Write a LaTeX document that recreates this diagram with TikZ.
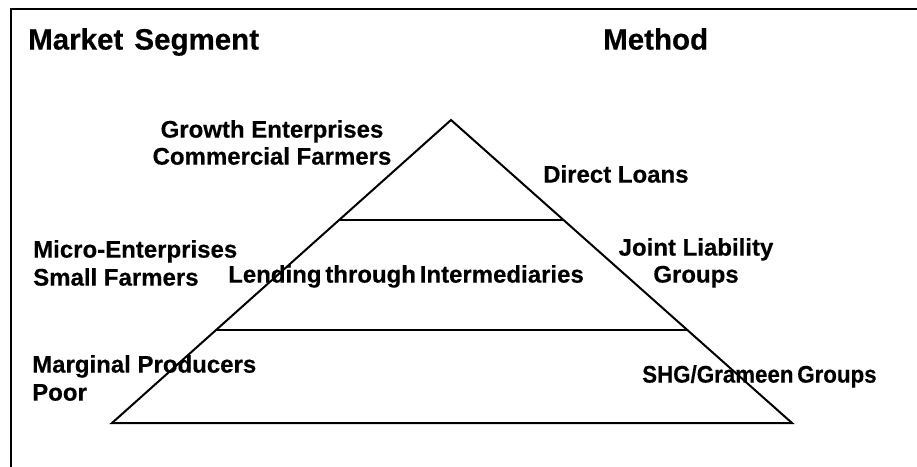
\documentclass[tikz,border=0pt]{standalone}
\usepackage{fontspec}
\setmainfont{Liberation Sans}[BoldFont={Liberation Sans Bold}, BoldFeatures={FakeBold=0.4}]
\usetikzlibrary{calc}

\begin{document}
\begin{tikzpicture}[x=1pt,y=-1pt,
  frame/.style={line width=2.4pt},
  tier/.style={line width=2pt, line join=miter},
  heading/.style={font=\fontsize{29.5}{33}\selectfont\bfseries, inner sep=0pt, anchor=north west},
  lbl/.style={font=\fontsize{24}{28}\selectfont\bfseries, inner sep=0pt, align=left, anchor=north west},
  clbl/.style={font=\fontsize{24}{27}\selectfont\bfseries, inner sep=0pt, align=center, anchor=north}]

  % page area
  \useasboundingbox (0,0) rectangle (917,466);
  \clip (0,0) rectangle (917,466);

  % outer frame, running past the right and bottom edges
  \draw[frame] (11,9) rectangle (940,490);

  % column headings
  \node[heading] (seg) at (28,28) {Market\hspace{3pt} Segment};
  \node[heading] (meth) at (603,28) {Method};

  % pyramid corners and tier boundaries
  \coordinate (apex) at (451,120);
  \coordinate (bl) at (112,423);
  \coordinate (br) at (792,423);
  \coordinate (l1) at ($(apex)!0.330!(bl)$);
  \coordinate (r1) at ($(apex)!0.330!(br)$);
  \coordinate (l2) at ($(apex)!0.693!(bl)$);
  \coordinate (r2) at ($(apex)!0.693!(br)$);

  \draw[tier] (apex) -- (bl) -- (br) -- cycle;
  \draw[tier] (l1) -- (r1);
  \draw[tier] (l2) -- (r2);

  % market segments
  \node[clbl] (growth) at (272,120) {Growth Enterprises\\Commercial Farmers};
  \node[lbl] (micro) at (33,240) {Micro-Enterprises\\Small Farmers};
  \node[lbl] (marg) at (32,355) {Marginal Producers\\Poor};

  % methods
  \node[lbl] (direct) at (543,165) {Direct Loans};
  \node[lbl] (lend) at (228,265) {\spaceskip=3.8pt Lending through Intermediaries};
  \node[clbl] (joint) at (696,238) {Joint Liability\\Groups};
  \node[lbl] (shg) at (642,365) {\scalebox{0.93}[1]{\spaceskip=4pt SHG/Grameen Groups}};
\end{tikzpicture}
\end{document}
